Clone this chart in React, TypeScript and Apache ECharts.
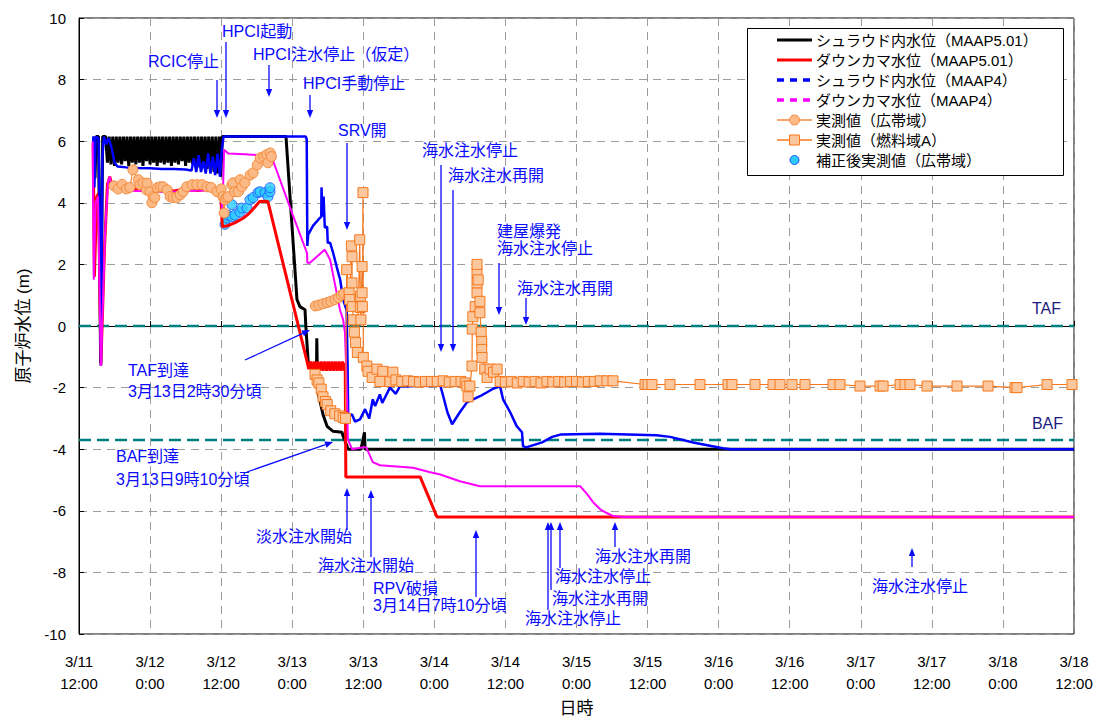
import React, { useEffect, useRef } from 'react';
import * as echarts from 'echarts';

// x = hours since 3/11 12:00, y = water level (m)
const xTickLabels = ['3/11\n12:00', '3/12\n0:00', '3/12\n12:00', '3/13\n0:00', '3/13\n12:00', '3/14\n0:00', '3/14\n12:00', '3/15\n0:00', '3/15\n12:00', '3/16\n0:00', '3/16\n12:00', '3/17\n0:00', '3/17\n12:00', '3/18\n0:00', '3/18\n12:00'];
const xMin = 0;
const xMax = 168;
const xStep = 12;
const yMin = -10;
const yMax = 10;
const yStep = 2;
const TAF_LEVEL = 0;
const BAF_LEVEL = -3.7;

const shroudMAAP501 = [
  [2.5, 6.15], [2.7, 4.8], [2.9, 6.15], [3.3, 6.15], [3.65, -1.2], [4.0, 6.15], [4.5, 6.15],
  [4.8, 5.3], [5.1, 6.15], [5.4, 5.25], [5.7, 6.15], [6.0, 5.2], [6.3, 6.15], [6.6, 5.3], [6.9, 6.15], [7.2, 5.25], [7.5, 6.15],
  [7.8, 5.35], [8.1, 6.15], [8.4, 5.2], [8.7, 6.15], [9.0, 5.3], [9.3, 6.15], [9.6, 5.25], [9.9, 6.15], [10.2, 5.3], [10.5, 6.15],
  [10.8, 5.2], [11.1, 6.15], [11.4, 5.35], [11.7, 6.15], [12.0, 5.25], [12.3, 6.15], [12.6, 5.3], [12.9, 6.15], [13.2, 5.2],
  [13.5, 6.15], [13.8, 5.3], [14.1, 6.15], [14.4, 5.25], [14.7, 6.15], [15.0, 5.3], [15.3, 6.15], [15.6, 5.2], [15.9, 6.15],
  [16.2, 5.3], [16.5, 6.15], [16.8, 5.25], [17.1, 6.15], [17.4, 5.35], [17.7, 6.15], [18.0, 5.2], [18.3, 6.15], [18.6, 5.3],
  [18.9, 6.15], [19.2, 5.25], [19.5, 6.15], [19.8, 5.2], [20.1, 6.15], [20.4, 5.15], [20.7, 6.15], [21.0, 5.2], [21.3, 6.15],
  [21.6, 5.1], [21.9, 6.15], [22.2, 5.05], [22.5, 6.15], [22.8, 5.0], [23.1, 6.15], [23.4, 4.95], [23.7, 6.15], [23.95, 4.85],
  [24.2, 6.15],
  [34.95, 6.15], [36.8, 0.86], [37.3, 0.63], [38.16, 0.53], [38.3, 0.0], [38.7, -1.18], [39.5, -1.4], [40.1, -1.45], [40.15, -0.4],
  [40.25, -1.5], [40.4, -2.2], [41.2, -2.87], [41.9, -3.26], [42.9, -3.42], [44.4, -3.45], [44.6, -3.58], [45.25, -3.9], [45.4, -4.0],
  [47.6, -4.0], [48.2, -3.45], [48.3, -4.0], [168, -4.0]
];

const downcomerMAAP501 = [
  [2.4, 5.9], [2.6, 1.6], [3.0, 4.2], [3.3, 4.3], [3.7, -1.25], [4.3, 2.5], [4.8, 4.6], [5.2, 4.85], [5.6, 4.5], [6.0, 4.45],
  [8.0, 4.38], [10.0, 4.46], [12.0, 4.4], [14.0, 4.45], [16.0, 4.38], [18.0, 4.45], [20.0, 4.4], [22.0, 4.44], [23.9, 4.4],
  [24.2, 3.23], [25.0, 3.25], [26.3, 3.35], [27.7, 3.5], [28.7, 3.65], [29.4, 3.8], [30.5, 4.04], [31.5, 4.05], [31.9, 4.04],
  [38.5, -1.15], [38.8, -1.4], [39.1, -1.15], [39.4, -1.45], [39.7, -1.15], [40.0, -1.45], [40.3, -1.15], [40.6, -1.45],
  [40.9, -1.15], [41.2, -1.45], [41.5, -1.15], [41.8, -1.45], [42.1, -1.15], [42.4, -1.45], [42.7, -1.15], [43.0, -1.45],
  [43.3, -1.15], [43.6, -1.45], [43.9, -1.15], [44.2, -1.45], [44.5, -1.15], [44.8, -1.45], [44.95, -1.2], [45.05, -4.9],
  [57.6, -4.9], [60.45, -6.2], [168, -6.2]
];

const shroudMAAP4 = [
  [2.4, 6.15], [2.6, 4.5], [2.8, 6.15], [3.3, 6.1], [3.5, 3.0], [3.7, -1.3], [3.95, 5.5], [4.2, 6.15], [4.6, 5.9], [5.0, 6.1],
  [5.4, 5.85], [5.7, 5.6], [6.0, 5.3], [6.5, 5.18], [8, 5.15], [10, 5.13], [12, 5.12], [14, 5.1], [16, 5.1], [18, 5.08],
  [19.0, 5.05], [19.4, 5.45], [19.8, 5.0], [20.2, 5.55], [20.6, 5.0], [21.0, 5.35], [21.4, 4.95], [21.8, 5.6], [22.2, 4.95],
  [22.6, 5.5], [23.0, 4.9], [23.4, 5.6], [23.8, 4.85], [24.1, 5.7], [24.4, 6.15], [38.3, 6.15], [38.45, 6.05], [38.55, 2.6],
  [38.7, 2.97], [39.5, 3.25], [40.4, 3.45], [40.9, 3.55], [40.95, 4.5], [41.1, 3.55], [41.3, 4.2], [41.5, 3.2], [41.9, 3.22],
  [42.0, 2.7], [42.4, 2.7], [42.9, 2.38], [43.5, 1.93], [44.1, 1.5], [44.6, 0.86], [45.2, 0.5], [45.25, -0.2], [45.35, -1.3],
  [45.45, -2.93], [46.1, -2.87], [46.6, -3.1], [47.45, -3.03], [48.3, -2.7], [49.0, -3.0], [49.6, -2.38], [50.0, -2.6],
  [50.8, -2.22], [51.2, -2.5], [52.5, -2.0], [53.5, -2.2], [54.2, -1.95], [56, -1.96], [57.5, -1.93], [59, -1.95], [61, -1.93],
  [61.5, -2.28], [62.2, -2.8], [63.0, -3.19], [64.3, -2.8], [65.5, -2.48], [67.7, -2.28], [68.9, -2.15], [70.0, -2.03],
  [71.1, -1.96], [71.6, -2.38], [72.8, -2.8], [73.9, -3.25], [74.8, -3.45], [74.97, -3.9], [75.5, -3.94], [78.2, -3.78],
  [79.9, -3.6], [81.4, -3.52], [87.9, -3.5], [97.5, -3.55], [99.8, -3.6], [103.7, -3.78], [108.7, -3.97], [110, -4.0], [168, -4.0]
];

const downcomerMAAP4 = [
  [2.3, 6.0], [2.5, 1.5], [2.8, 4.0], [3.2, 4.2], [3.7, -1.3], [4.4, 3.0], [4.9, 4.7], [5.2, 4.85], [5.6, 4.45], [7, 4.4],
  [10, 4.38], [15, 4.35], [20, 4.4], [24.0, 4.4], [24.2, 3.6], [24.5, 5.72], [25.2, 5.6], [28, 5.58], [30, 5.55], [31.9, 5.55],
  [32.8, 5.35], [36.1, 3.6], [38.5, 2.37], [38.55, 2.05], [39.0, 2.05], [41.5, 2.48], [42.4, 2.15], [44.1, 0.5], [44.6, 0.2],
  [44.9, -0.2], [45.1, -1.3], [45.25, -2.38], [45.4, -3.68], [46.1, -4.0], [48.0, -3.94], [48.5, -3.94], [49.1, -4.2],
  [49.6, -4.42], [50.8, -4.52], [56.4, -4.6], [59.3, -4.75], [61, -4.82], [64.3, -5.04], [67.7, -5.2], [84.6, -5.2],
  [85.8, -5.46], [86.8, -5.72], [88.0, -5.95], [89.2, -6.08], [90.2, -6.17], [92, -6.2], [168, -6.2]
];

const measuredWideRange = [
  [5.9, 4.55], [6.6, 4.45], [7.3, 4.6], [8.0, 4.45], [8.6, 4.5],
  [9.1, 5.07], [10.0, 4.75], [10.3, 4.59], [10.8, 4.64], [11.4, 4.42], [11.5, 4.64], [12.0, 4.36], [12.3, 4.0], [12.5, 4.2],
  [12.8, 4.17], [13.2, 4.49], [13.7, 4.52], [14.2, 4.52], [14.9, 4.42], [15.4, 4.2], [15.9, 4.17], [16.5, 4.17], [17.1, 4.26],
  [17.6, 4.36], [18.2, 4.52], [19.1, 4.59], [19.9, 4.59], [20.8, 4.59], [21.6, 4.52], [22.3, 4.5], [23.3, 4.36], [24.0, 4.45],
  [24.3, 4.2], [24.5, 3.67], [24.65, 4.1], [24.9, 4.17], [25.2, 4.2], [25.8, 4.58], [26.0, 4.65], [26.3, 4.36], [26.9, 4.36],
  [27.2, 4.75], [27.5, 4.52], [28.0, 4.65], [28.9, 4.9], [29.4, 4.97], [30.1, 5.23], [30.6, 5.46], [31.2, 5.5], [31.7, 5.56],
  [31.9, 5.3], [32.3, 5.62], [32.5, 5.5], [36, '-'],
  [39.9, 0.65], [40.5, 0.68], [41.2, 0.72], [41.9, 0.76], [42.5, 0.8], [43.2, 0.86], [43.8, 0.92], [44.3, 1.0], [44.7, 1.05]
];

const measuredFuelRangeA = [
  [39.85, -1.57], [40.2, -1.75], [40.5, -1.85], [40.9, -2.05], [41.2, -2.3], [41.6, -2.45], [41.9, -2.55], [42.5, -2.75],
  [43.2, -2.85], [44.0, -2.92], [44.6, -2.97], [45.0, -3.0], [45.2, 1.83], [45.6, 1.08], [45.7, 0.86], [46.0, 2.6], [46.1, 2.25],
  [46.1, 1.4], [46.2, 0.63], [46.3, 0.2], [46.5, -0.2], [46.7, -0.54], [47.0, -0.86], [47.4, 2.8], [47.5, 0.97], [47.5, 0.6],
  [47.6, 0.2], [47.8, 1.93], [47.8, 1.08], [47.85, 0.63], [47.95, 4.33], [48.0, -1.02], [48.6, -1.3], [48.8, -1.47],
  [49.5, -1.67], [50.3, -1.4], [50.8, -1.8], [51.3, -1.47], [52.5, -1.8], [53.0, -1.5], [53.5, -1.75], [54.5, -1.8],
  [55.5, -1.78], [56.5, -1.8], [57.5, -1.82], [58.5, -1.8], [59.5, -1.8], [60.5, -1.8], [61.5, -1.78], [62.5, -1.82],
  [63.5, -1.8], [64.5, -1.8], [65.2, -1.85], [65.5, -1.95], [65.7, -2.3], [66.0, -1.95], [66.36, -1.3], [66.4, -0.1],
  [66.5, 0.3], [66.9, 0.63], [67.2, 1.08], [67.2, 1.4], [67.2, 1.73], [67.2, 2.0], [67.4, 1.5], [67.7, 0.8], [67.7, 0.43],
  [67.9, -0.2], [68.0, -0.5], [68.0, -0.76], [68.05, -1.02], [68.5, -1.4], [68.9, -1.67], [69.4, -1.4], [70.0, -1.5],
  [70.6, -1.4], [71.1, -1.8], [72, -1.82], [73, -1.8], [74, -1.85], [75, -1.8], [76, -1.82], [77, -1.8], [78, -1.85],
  [79, -1.8], [80, -1.82], [81, -1.8], [82, -1.82], [83, -1.8], [84, -1.8], [85, -1.82], [86, -1.8], [87, -1.8], [88, -1.78],
  [89.15, -1.78], [90.16, -1.78], [95.57, -1.9], [96.08, -1.9], [96.75, -1.9], [99.79, -1.9], [104.85, -1.9], [109.58, -1.9],
  [110.26, -1.9], [114.14, -1.9], [117.18, -1.9], [118.36, -1.9], [120.39, -1.9], [122.58, -1.9], [127.31, -1.9], [128.5, -1.9],
  [131.87, -1.95], [135.25, -1.95], [135.76, -1.95], [138.63, -1.9], [139.47, -1.9], [140.32, -1.9], [143.19, -1.95],
  [148.25, -1.95], [153.48, -1.95], [158.04, -2.0], [158.38, -2.0], [163.45, -1.9], [167.67, -1.9]
];

const correctedWideRange = [
  [24.65, 3.3], [24.99, 3.5], [25.16, 3.6], [25.83, 3.55], [25.83, 3.94], [26.34, 3.6], [27.18, 3.7], [27.52, 3.83],
  [28.37, 3.83], [28.87, 4.1], [29.38, 4.17], [30.22, 4.33], [30.56, 4.36], [31.41, 4.33], [31.91, 4.2], [32.25, 4.36], [32.25, 4.49]
];

const tafLine = [[xMin, TAF_LEVEL], [xMax, TAF_LEVEL]];
const bafLine = [[xMin, BAF_LEVEL], [xMax, BAF_LEVEL]];

const legendNames = ['シュラウド内水位（MAAP5.01）', 'ダウンカマ水位（MAAP5.01）', 'シュラウド内水位（MAAP4）', 'ダウンカマ水位（MAAP4）', '実測値（広帯域）', '実測値（燃料域A）', '補正後実測値（広帯域）'];

const FONT = "'Liberation Sans', Arial, 'Noto Sans CJK JP', sans-serif";
const BLUE = '#0a0aff';
const ORANGE_C = '#f58a3c';
const ORANGE_C_FILL = '#fbb985';
const ORANGE_S = '#f5781e';
const ORANGE_S_FILL = '#fcc79c';
const CYAN = '#2ccaff';

function arrow(x1: number, y1: number, x2: number, y2: number, color = BLUE) {
  const dx = x2 - x1, dy = y2 - y1;
  const len = Math.hypot(dx, dy);
  const ux = dx / len, uy = dy / len;
  const hl = 8, hw = 3.2;
  const bx = x2 - ux * hl, by = y2 - uy * hl;
  return [
    { type: 'line', z: 100, silent: true, shape: { x1, y1, x2: bx, y2: by }, style: { stroke: color, lineWidth: 1.3 } },
    { type: 'polygon', z: 100, silent: true, shape: { points: [[x2, y2], [bx - uy * hw, by + ux * hw], [bx + uy * hw, by - ux * hw]] }, style: { fill: color } }
  ];
}

function label(text: string, x: number, y: number, opts: any = {}) {
  return {
    type: 'text', z: 100, silent: true, x, y,
    style: { text, fill: opts.color || BLUE, font: `${opts.size || 16}px ${FONT}`, textAlign: opts.align || 'left', textVerticalAlign: 'middle' }
  };
}

function buildLegend() {
  const els: any[] = [];
  const bx = 747.5, by = 28.5, bw = 316, bh = 147;
  els.push({ type: 'rect', z: 100, silent: true, shape: { x: bx, y: by, width: bw, height: bh }, style: { fill: '#fff', stroke: '#000', lineWidth: 1 } });
  const lx1 = 777, lx2 = 812, cx = 794.5, tx = 816;
  const rows = [40, 60, 80, 100, 120, 140, 160];
  const lineStyles: any[] = [
    { stroke: '#000', lineWidth: 3 },
    { stroke: '#ff0000', lineWidth: 3 },
    { stroke: '#0000ff', lineWidth: 3.5, lineDash: [7, 6] },
    { stroke: '#ff00ff', lineWidth: 3.5, lineDash: [7, 6] },
    { stroke: ORANGE_C, lineWidth: 1.3 },
    { stroke: ORANGE_S, lineWidth: 1.3 },
    null
  ];
  rows.forEach((ry, i) => {
    const ls = lineStyles[i];
    if (ls) els.push({ type: 'line', z: 100, silent: true, shape: { x1: lx1, y1: ry, x2: lx2, y2: ry }, style: ls });
    if (i === 4) els.push({ type: 'circle', z: 101, silent: true, shape: { cx, cy: ry, r: 5 }, style: { fill: ORANGE_C_FILL, stroke: ORANGE_C, lineWidth: 1 } });
    if (i === 5) els.push({ type: 'rect', z: 101, silent: true, shape: { x: cx - 5, y: ry - 5, width: 10, height: 10 }, style: { fill: ORANGE_S_FILL, stroke: ORANGE_S, lineWidth: 1 } });
    if (i === 6) els.push({ type: 'circle', z: 101, silent: true, shape: { cx, cy: ry, r: 4.5 }, style: { fill: CYAN, stroke: '#1e50ff', lineWidth: 1 } });
    els.push(label(legendNames[i], tx, ry, { color: '#000', size: 15 }));
  });
  return els;
}

function buildAnnotations() {
  const g: any[] = [];
  g.push(label('RCIC停止', 148, 61));
  g.push(...arrow(217, 80, 217, 118));
  g.push(label('HPCI起動', 222, 31));
  g.push(...arrow(226, 42, 226, 118));
  g.push(label('HPCI注水停止（仮定）', 253, 54));
  g.push(...arrow(269, 65, 269, 97));
  g.push(label('HPCI手動停止', 303, 83));
  g.push(...arrow(310, 95, 310, 118));
  g.push(label('SRV開', 338, 130));
  g.push(...arrow(347, 143, 347, 230));
  g.push(label('海水注水停止', 422, 150));
  g.push(...arrow(441, 165, 441, 352));
  g.push(label('海水注水再開', 448, 175));
  g.push(...arrow(453, 190, 453, 352));
  g.push(label('建屋爆発', 497, 231));
  g.push(label('海水注水停止', 497, 248));
  g.push(...arrow(499, 263, 499, 315));
  g.push(label('海水注水再開', 517, 288));
  g.push(...arrow(526, 298, 526, 325));
  g.push(label('TAF', 1061, 308, { color: '#1c1c80', align: 'right' }));
  g.push(label('BAF', 1063, 423, { color: '#1c1c80', align: 'right' }));
  g.push(label('TAF到達', 128, 370));
  g.push(label('3月13日2時30分頃', 128, 391));
  g.push(...arrow(245, 360, 310, 330));
  g.push(label('BAF到達', 116, 456));
  g.push(label('3月13日9時10分頃', 116, 479));
  g.push(...arrow(247, 472, 333, 442));
  g.push(label('淡水注水開始', 256, 536));
  g.push(...arrow(347, 530, 347, 488));
  g.push(label('海水注水開始', 318, 565));
  g.push(...arrow(371, 557, 371, 490));
  g.push(label('RPV破損', 373, 588));
  g.push(label('3月14日7時10分頃', 373, 605));
  g.push(...arrow(476, 597, 476, 530));
  g.push(label('海水注水再開', 595, 556));
  g.push(...arrow(615, 547, 615, 522));
  g.push(label('海水注水停止', 555, 576));
  g.push(...arrow(560, 568, 560, 522));
  g.push(label('海水注水再開', 552, 598));
  g.push(...arrow(551, 590, 551, 522));
  g.push(label('海水注水停止', 525, 618));
  g.push(...arrow(548, 610, 548, 522));
  g.push(label('海水注水停止', 872, 586));
  g.push(...arrow(912, 567, 912, 548));
  return g;
}

function lineSeries(name: string, data: any[], color: string, width: number, extra: any = {}) {
  return {
    name, type: 'line', data, showSymbol: false, symbol: 'none', silent: true, connectNulls: false,
    lineStyle: { color, width, type: 'solid', ...(extra.lineStyle || {}) }
  };
}

export default function App() {
  const ref = useRef<HTMLDivElement>(null);
  useEffect(() => {
    const chart = echarts.init(ref.current as HTMLDivElement, null, { renderer: 'svg' });
    const option: any = {
      animation: false,
      backgroundColor: '#ffffff',
      textStyle: { fontFamily: FONT },
      grid: { left: 79, top: 18, right: 23, bottom: 88, show: true, borderColor: '#000', borderWidth: 1, backgroundColor: 'transparent' },
      xAxis: {
        type: 'value', min: xMin, max: xMax, interval: xStep,
        axisLine: { show: true, lineStyle: { color: '#000', width: 1 } },
        axisTick: { show: true, inside: true, length: 5, lineStyle: { color: '#000' } },
        axisLabel: {
          formatter: (v: number) => xTickLabels[Math.round((v - xMin) / xStep)] || '',
          color: '#000', fontSize: 15, lineHeight: 22, margin: 16, fontFamily: FONT, showMinLabel: true, showMaxLabel: true
        },
        splitLine: { show: true, lineStyle: { color: '#9c9c9c', type: [8, 6], width: 1 } },
        name: '日時', nameLocation: 'middle', nameGap: 66,
        nameTextStyle: { fontSize: 17, color: '#000', fontFamily: FONT }
      },
      yAxis: {
        type: 'value', min: yMin, max: yMax, interval: yStep,
        axisLine: { show: true, lineStyle: { color: '#000', width: 1 } },
        axisTick: { show: true, inside: true, length: 5, lineStyle: { color: '#000' } },
        axisLabel: { color: '#000', fontSize: 15, margin: 13, fontFamily: FONT },
        splitLine: { show: true, lineStyle: { color: '#9c9c9c', type: [8, 6], width: 1 } },
        name: '原子炉水位 (m)', nameLocation: 'middle', nameGap: 47, nameRotate: 90,
        nameTextStyle: { fontSize: 17, color: '#000', fontFamily: FONT }
      },
      series: [
        lineSeries('TAF', tafLine, '#007f7f', 2.5, { lineStyle: { type: [12, 6] } }),
        lineSeries('BAF', bafLine, '#007f7f', 2.5, { lineStyle: { type: [12, 6] } }),
        lineSeries(legendNames[0], shroudMAAP501, '#000000', 3),
        lineSeries(legendNames[1], downcomerMAAP501, '#ff0000', 3),
        lineSeries(legendNames[2], shroudMAAP4, '#0000ff', 2.5),
        lineSeries(legendNames[3], downcomerMAAP4, '#ff00ff', 2),
        {
          name: legendNames[4], type: 'line', data: measuredWideRange, silent: true, connectNulls: false,
          symbol: 'circle', symbolSize: 10, showSymbol: true,
          lineStyle: { color: ORANGE_C, width: 1.2 },
          itemStyle: { color: ORANGE_C_FILL, borderColor: ORANGE_C, borderWidth: 1 }
        },
        {
          name: legendNames[5], type: 'line', data: measuredFuelRangeA, silent: true,
          symbol: 'rect', symbolSize: 10, showSymbol: true,
          lineStyle: { color: ORANGE_S, width: 1.2 },
          itemStyle: { color: ORANGE_S_FILL, borderColor: ORANGE_S, borderWidth: 1 }
        },
        {
          name: legendNames[6], type: 'scatter', data: correctedWideRange, silent: true,
          symbol: 'circle', symbolSize: 10,
          itemStyle: { color: CYAN, borderColor: '#1e50ff', borderWidth: 1 }
        }
      ],
      graphic: [...buildAnnotations(), ...buildLegend()]
    };
    chart.setOption(option);
    return () => chart.dispose();
  }, []);
  return <div ref={ref} style={{ position: 'fixed', left: 0, top: 0, width: 1097, height: 722, background: '#fff' }} />;
}
